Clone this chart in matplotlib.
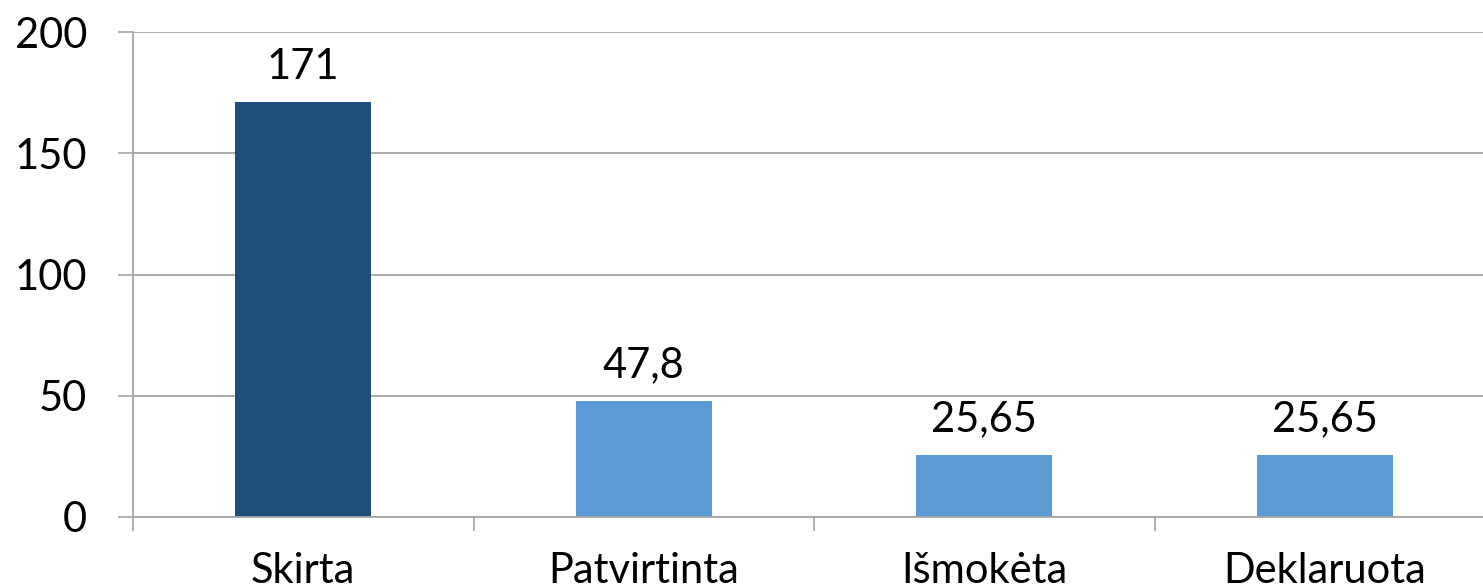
import matplotlib
matplotlib.use("Agg")
import matplotlib.pyplot as plt
from matplotlib.ticker import FixedLocator

categories = ["Skirta", "Patvirtinta", "Išmokėta", "Deklaruota"]
values = [171, 47.8, 25.65, 25.65]
value_labels = ["171", "47,8", "25,65", "25,65"]
colors = ["#1F4E79", "#5B9BD5", "#5B9BD5", "#5B9BD5"]
yticks = [0, 50, 100, 150, 200]

plt.rcParams['font.family'] = ['Lato', 'DejaVu Sans']
fig = plt.figure(figsize=(14.83, 5.87), dpi=100)
ax = fig.add_axes([133/1483, 70/587, 1362/1483, (517-32)/587])

x = list(range(len(categories)))
ax.bar(x, values, width=0.4, color=colors, zorder=3)
for xi, v, lab in zip(x, values, value_labels):
    ax.annotate(lab, (xi, v), xytext=(0, 12), textcoords="offset points",
                ha="center", va="bottom", fontsize=30, color="black")

ax.set_xlim(-0.5, 3.5)
ax.set_ylim(0, 200)
ax.set_yticks(yticks)
ax.set_yticklabels([str(t) for t in yticks], fontsize=30)
ax.set_xticks(x)
ax.set_xticklabels(categories, fontsize=30)
ax.xaxis.set_minor_locator(FixedLocator([-0.5, 0.5, 1.5, 2.5, 3.5]))
ax.tick_params(axis="x", which="major", length=0, pad=25)
ax.tick_params(axis="x", which="minor", length=10, width=1.2, color="#A6A6A6")
ax.tick_params(axis="y", length=11, width=1.2, color="#A6A6A6", pad=22)
ax.grid(axis="y", color="#A6A6A6", linewidth=1.3, zorder=0)
for s in ["top", "right"]:
    ax.spines[s].set_visible(False)
for s in ["left", "bottom"]:
    ax.spines[s].set_color("#A6A6A6")
    ax.spines[s].set_linewidth(1.3)
ax.spines["bottom"].set_zorder(4)

fig.savefig("out.png", dpi=100)
